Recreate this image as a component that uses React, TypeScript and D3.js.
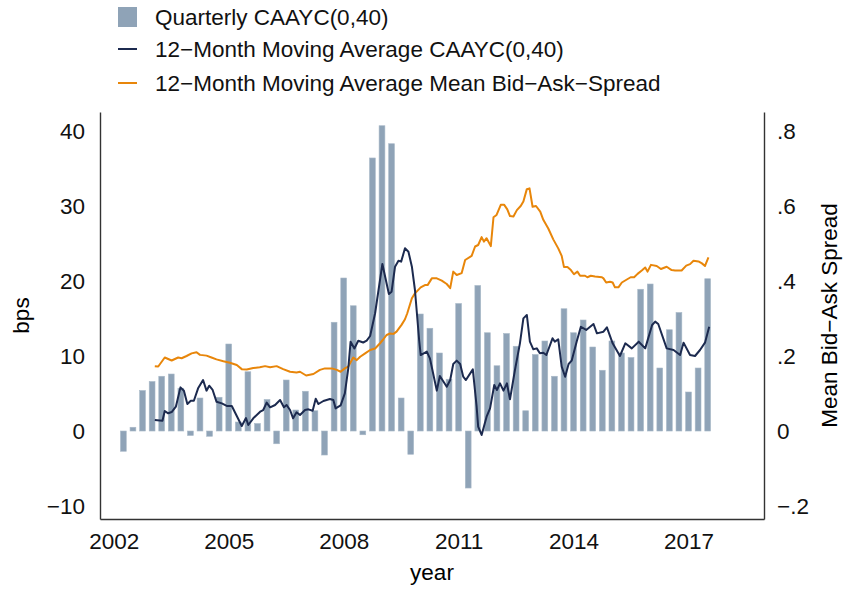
import React, { useRef, useEffect } from 'react';
import * as d3 from 'd3';

// quarterly bars, 2002q2 .. 2017q3
const firstQuarter = 2002.25;
const quarterlyCaayc = [
  -2.7, 0.5, 5.4, 6.6, 7.3, 7.6, 5.7, -0.6, 4.4, -0.7, 4.5, 11.6, 1.2, 7.9, 1.0, 4.2,
  -1.7, 6.8, 2.8, 5.3, 2.7, -3.2, 14.5, 20.4, 16.7, -0.5, 36.4, 40.7, 38.3, 4.4, -3.1, 15.6,
  13.7, 10.4, 6.9, 17.0, -7.6, 19.4, 13.1, 8.7, 13.0, 11.3, 2.7, 10.2, 12.0, 7.3, 16.3, 13.1,
  14.8, 11.2, 8.1, 12.0, 10.4, 9.8, 18.9, 19.6, 8.4, 13.5, 15.8, 5.2, 8.4, 20.3,
];

// 12-month moving average CAAYC(0,40), decimal year / bps
const caaycDates = [
  2003.07, 2003.27, 2003.33, 2003.42, 2003.51, 2003.62, 2003.74, 2003.83, 2003.92, 2004.01,
  2004.09, 2004.2, 2004.33, 2004.42, 2004.49, 2004.58, 2004.68, 2004.82, 2004.96, 2005.08,
  2005.21, 2005.34, 2005.45, 2005.51, 2005.64, 2005.82, 2005.9, 2005.99, 2006.08, 2006.21,
  2006.34, 2006.44, 2006.51, 2006.6, 2006.68, 2006.77, 2006.86, 2006.99, 2007.08, 2007.19,
  2007.27, 2007.34, 2007.47, 2007.64, 2007.73, 2007.79, 2007.92, 2008.03, 2008.12, 2008.18,
  2008.28, 2008.38, 2008.51, 2008.6, 2008.69, 2008.82, 2009.01, 2009.18, 2009.25, 2009.34,
  2009.43, 2009.5, 2009.6, 2009.69, 2009.78, 2009.86, 2009.97, 2010.01, 2010.17, 2010.25,
  2010.43, 2010.51, 2010.69, 2010.78, 2010.86, 2010.95, 2011.04, 2011.12, 2011.19, 2011.37,
  2011.47, 2011.51, 2011.6, 2011.73, 2011.82, 2011.93, 2012.0, 2012.08, 2012.17, 2012.26,
  2012.34, 2012.47, 2012.6, 2012.69, 2012.78, 2012.86, 2012.95, 2013.04, 2013.12, 2013.21,
  2013.29, 2013.45, 2013.51, 2013.6, 2013.69, 2013.78, 2013.87, 2013.95, 2014.08, 2014.19,
  2014.33, 2014.52, 2014.61, 2014.78, 2014.87, 2015.02, 2015.21, 2015.35, 2015.52, 2015.7,
  2015.87, 2016.05, 2016.13, 2016.21, 2016.43, 2016.61, 2016.78, 2016.87, 2017.04, 2017.17,
  2017.3, 2017.43, 2017.54,
];
const caaycMA = [
  1.47, 1.38, 2.67, 2.36, 2.53, 3.24, 5.82, 5.38, 3.6, 4.04,
  4.04, 5.69, 6.8, 5.38, 6.04, 5.47, 3.91, 3.69, 3.33, 3.33,
  2.0, 0.67, 1.73, 0.8, 1.69, 2.58, 2.8, 3.78, 3.16, 3.47,
  4.13, 3.16, 3.47, 2.8, 1.69, 2.49, 2.13, 2.8, 2.89, 2.71,
  4.31, 3.6, 4.0, 4.27, 4.13, 3.02, 3.42, 5.02, 8.36, 11.9,
  11.0, 12.04, 11.8, 12.04, 12.67, 15.7, 22.27, 18.27, 18.58, 21.9,
  22.7, 22.58, 24.36, 23.9, 21.9, 18.8, 12.1, 10.13, 10.58, 9.69,
  5.38, 7.33, 5.91, 6.8, 8.93, 9.38, 8.93, 7.24, 6.8, 8.22,
  3.24, 0.58, -0.53, 1.91, 3.02, 6.13, 5.47, 6.36, 5.38, 6.36,
  4.22, 8.13, 11.69, 15.02, 15.47, 11.91, 10.89, 11.02, 10.36, 10.44,
  10.13, 12.36, 11.91, 12.22, 8.58, 7.24, 8.93, 9.38, 11.91, 13.9,
  13.47, 14.27, 13.02, 13.24, 13.82, 11.69, 10.0, 11.69, 11.02, 11.91,
  11.02, 14.13, 14.58, 14.27, 11.02, 10.8, 10.13, 11.78, 10.13, 10.0,
  10.8, 11.78, 13.9,
];

// 12-month moving average of the mean bid-ask spread (right axis)
const spreadDates = [
  2003.07, 2003.16, 2003.33, 2003.51, 2003.68, 2003.77, 2003.9, 2004.03, 2004.16, 2004.25,
  2004.42, 2004.55, 2004.68, 2004.86, 2005.03, 2005.21, 2005.34, 2005.47, 2005.64, 2005.81,
  2005.95, 2006.08, 2006.25, 2006.42, 2006.6, 2006.77, 2006.86, 2007.02, 2007.21, 2007.38,
  2007.51, 2007.69, 2007.82, 2007.92, 2008.03, 2008.12, 2008.25, 2008.34, 2008.43, 2008.56,
  2008.69, 2008.82, 2008.95, 2009.03, 2009.12, 2009.21, 2009.3, 2009.38, 2009.51, 2009.6,
  2009.66, 2009.78, 2009.86, 2010.01, 2010.12, 2010.19, 2010.3, 2010.43, 2010.56, 2010.69,
  2010.78, 2010.86, 2010.95, 2011.08, 2011.17, 2011.34, 2011.43, 2011.51, 2011.6, 2011.66,
  2011.73, 2011.84, 2011.91, 2011.99, 2012.1, 2012.19, 2012.27, 2012.34, 2012.43, 2012.52,
  2012.62, 2012.69, 2012.78, 2012.85, 2012.93, 2013.02, 2013.13, 2013.21, 2013.34, 2013.47,
  2013.6, 2013.69, 2013.75, 2013.84, 2013.93, 2014.01, 2014.1, 2014.17, 2014.3, 2014.36,
  2014.45, 2014.56, 2014.74, 2014.78, 2014.85, 2014.95, 2015.02, 2015.08, 2015.17, 2015.26,
  2015.39, 2015.49, 2015.58, 2015.67, 2015.78, 2015.87, 2015.93, 2016.02, 2016.17, 2016.28,
  2016.43, 2016.56, 2016.65, 2016.82, 2016.94, 2017.04, 2017.13, 2017.26, 2017.35, 2017.43,
  2017.52,
];
const spreadMA = [
  0.173, 0.172, 0.196, 0.188, 0.196, 0.194, 0.2, 0.207, 0.21, 0.203,
  0.201, 0.196, 0.191, 0.186, 0.182, 0.176, 0.165, 0.164, 0.168, 0.17,
  0.173, 0.17, 0.173, 0.165, 0.158, 0.156, 0.158, 0.148, 0.152, 0.163,
  0.167, 0.167, 0.163, 0.158, 0.167, 0.172, 0.196, 0.189, 0.198, 0.207,
  0.216, 0.22, 0.234, 0.244, 0.256, 0.26, 0.259, 0.265, 0.283, 0.298,
  0.314, 0.354, 0.367, 0.383, 0.389, 0.389, 0.407, 0.407, 0.401, 0.392,
  0.381, 0.425, 0.416, 0.421, 0.456, 0.467, 0.492, 0.496, 0.517, 0.505,
  0.514, 0.493, 0.57, 0.576, 0.603, 0.603, 0.591, 0.573, 0.572, 0.589,
  0.6, 0.612, 0.645, 0.647, 0.598, 0.6, 0.585, 0.563, 0.54, 0.511,
  0.487, 0.467, 0.437, 0.437, 0.429, 0.418, 0.425, 0.414, 0.414, 0.41,
  0.414, 0.412, 0.41, 0.407, 0.396, 0.398, 0.396, 0.383, 0.383, 0.396,
  0.404, 0.41, 0.41, 0.419, 0.428, 0.436, 0.425, 0.443, 0.44, 0.432,
  0.438, 0.429, 0.428, 0.428, 0.441, 0.445, 0.454, 0.452, 0.447, 0.44,
  0.463,
];

const xTicks = [2002, 2005, 2008, 2011, 2014, 2017];
const leftTicks = [-10, 0, 10, 20, 30, 40];
const rightTicks = [-0.2, 0, 0.2, 0.4, 0.6, 0.8];
const legendLabels = [
  'Quarterly CAAYC(0,40)',
  '12\u2212Month Moving Average CAAYC(0,40)',
  '12\u2212Month Moving Average Mean Bid\u2212Ask\u2212Spread',
];

const W = 843;
const H = 591;
const FONT = '"Liberation Sans", Arial, Helvetica, sans-serif';
const FS = 22.5;
const BAR = '#8fa3b7';
const NAVY = '#1c2a4f';
const ORANGE = '#e8860a';

const fmtRight = (v: number) => {
  if (v === 0) return '0';
  const s = String(Math.abs(v)).replace(/^0/, '');
  return (v < 0 ? '\u2212' : '') + s;
};

const App: React.FC = () => {
  const ref = useRef<SVGSVGElement>(null);

  useEffect(() => {
    const svg = d3.select(ref.current);
    svg.selectAll('*').remove();

    const left = 100, right = 764, top = 112, bottom = 519;

    const x = d3.scaleLinear().domain([2001.64, 2018.97]).range([left, right]);
    const y = d3.scaleLinear().domain([-11.73, 42.53]).range([bottom, top]);
    const yR = d3.scaleLinear().domain([-0.2346, 0.8506]).range([bottom, top]);

    // bars
    svg
      .append('g')
      .selectAll('rect')
      .data(quarterlyCaayc)
      .enter()
      .append('rect')
      .attr('x', (_d, i) => x(firstQuarter + i * 0.25) - 2.9)
      .attr('width', 5.8)
      .attr('y', (d) => y(Math.max(d, 0)))
      .attr('height', (d) => Math.abs(y(d) - y(0)))
      .attr('fill', BAR)
      .attr('stroke', '#a9b9c8')
      .attr('stroke-width', 0.6);

    // lines
    const blue = d3
      .line<number>()
      .x((_d, i) => x(caaycDates[i]))
      .y((d) => y(d));
    const orange = d3
      .line<number>()
      .x((_d, i) => x(spreadDates[i]))
      .y((d) => yR(d));

    svg
      .append('path')
      .attr('d', orange(spreadMA))
      .attr('fill', 'none')
      .attr('stroke', ORANGE)
      .attr('stroke-width', 2)
      .attr('stroke-linejoin', 'round');

    svg
      .append('path')
      .attr('d', blue(caaycMA))
      .attr('fill', 'none')
      .attr('stroke', NAVY)
      .attr('stroke-width', 2)
      .attr('stroke-linejoin', 'round');

    // axes
    const styleAxis = (g: any) => {
      g.selectAll('.domain').attr('stroke', '#333').attr('stroke-width', 1.4);
      g.selectAll('text').attr('font-family', FONT).attr('font-size', FS).attr('fill', '#111');
    };

    svg
      .append('g')
      .attr('transform', `translate(${left},0)`)
      .call(d3.axisLeft(y).tickValues(leftTicks).tickSize(0).tickPadding(15).tickSizeOuter(0))
      .call(styleAxis);

    svg
      .append('g')
      .attr('transform', `translate(${right},0)`)
      .call(
        d3.axisRight(yR).tickValues(rightTicks).tickFormat((d: any) => fmtRight(+d))
          .tickSize(0).tickPadding(13).tickSizeOuter(0)
      )
      .call(styleAxis);

    svg
      .append('g')
      .attr('transform', `translate(0,${bottom})`)
      .call(d3.axisBottom(x).tickValues(xTicks).tickFormat(d3.format('d')).tickSize(0).tickPadding(14).tickSizeOuter(0))
      .call(styleAxis);

    // axis titles
    svg
      .append('text')
      .attr('transform', `translate(29,${(top + bottom) / 2}) rotate(-90)`)
      .attr('text-anchor', 'middle')
      .attr('font-family', FONT)
      .attr('font-size', FS)
      .text('bps');

    svg
      .append('text')
      .attr('transform', `translate(837,${(top + bottom) / 2}) rotate(-90)`)
      .attr('text-anchor', 'middle')
      .attr('font-family', FONT)
      .attr('font-size', FS)
      .text('Mean Bid\u2212Ask Spread');

    svg
      .append('text')
      .attr('x', (left + right) / 2)
      .attr('y', 580)
      .attr('text-anchor', 'middle')
      .attr('font-family', FONT)
      .attr('font-size', FS)
      .text('year');

    // legend
    const lg = svg.append('g');
    const rows = [17, 49, 83];
    lg.append('rect').attr('x', 118).attr('y', rows[0] - 10).attr('width', 19).attr('height', 20).attr('fill', BAR);
    lg.append('line').attr('x1', 118).attr('x2', 137).attr('y1', rows[1]).attr('y2', rows[1])
      .attr('stroke', NAVY).attr('stroke-width', 2);
    lg.append('line').attr('x1', 118).attr('x2', 137).attr('y1', rows[2]).attr('y2', rows[2])
      .attr('stroke', ORANGE).attr('stroke-width', 2);
    lg.selectAll('text.leg')
      .data(legendLabels)
      .enter()
      .append('text')
      .attr('class', 'leg')
      .attr('x', 155)
      .attr('y', (_d, i) => rows[i] + 8)
      .attr('font-family', FONT)
      .attr('font-size', FS)
      .attr('fill', '#111')
      .text((d) => d);
  }, []);

  return (
    <svg
      ref={ref}
      width={W}
      height={H}
      style={{ position: 'absolute', left: 0, top: 0, background: '#fff' }}
    />
  );
};

export default App;
